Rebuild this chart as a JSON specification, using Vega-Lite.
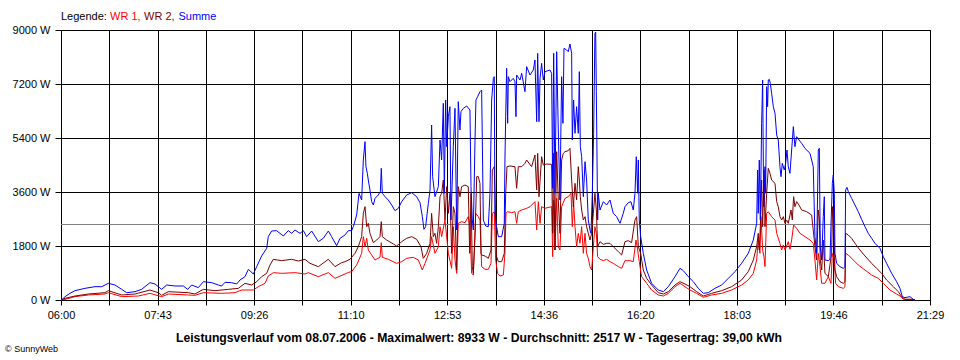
{
"$schema": "https://vega.github.io/schema/vega-lite/v6.json",
"width": 869, "height": 270,
"autosize": {"type": "none"},
"padding": {"left": 61, "top": 30, "right": 30, "bottom": 60},
"background": "white",
"config": {"view": {"stroke": "black", "strokeWidth": 1}, "font": "Liberation Sans"},
"datasets": {
"w1": [{"t":0,"v":0},{"t":4.3,"v":22},{"t":15,"v":111},{"t":29.2,"v":167},{"t":47,"v":200},{"t":50.6,"v":244},{"t":64.9,"v":111},{"t":82.7,"v":133},{"t":95.1,"v":222},{"t":107.6,"v":111},{"t":114.7,"v":200},{"t":136.1,"v":167},{"t":143.2,"v":156},{"t":152.2,"v":244},{"t":171.8,"v":222},{"t":186,"v":244},{"t":193.1,"v":333},{"t":205.6,"v":333},{"t":210.9,"v":444},{"t":218.1,"v":556},{"t":221.6,"v":800},{"t":227,"v":911},{"t":235.9,"v":889},{"t":250.1,"v":911},{"t":260.8,"v":867},{"t":264.4,"v":911},{"t":275.1,"v":778},{"t":285.8,"v":911},{"t":292.9,"v":722},{"t":303.6,"v":867},{"t":307.2,"v":920},{"t":310.7,"v":944},{"t":316.1,"v":1167},{"t":321.4,"v":1556},{"t":323.2,"v":2111},{"t":325,"v":1778},{"t":326.8,"v":2056},{"t":328.5,"v":1667},{"t":332.1,"v":1500},{"t":335.7,"v":1333},{"t":341,"v":1422},{"t":342.4,"v":1911},{"t":343.5,"v":1422},{"t":349.9,"v":1356},{"t":358.8,"v":1222},{"t":364.2,"v":1278},{"t":369.5,"v":1389},{"t":376.6,"v":1422},{"t":382,"v":1333},{"t":386.3,"v":1000},{"t":389.1,"v":1222},{"t":394.5,"v":1667},{"t":396.2,"v":2111},{"t":399.8,"v":1556},{"t":403.4,"v":1778},{"t":405.2,"v":2444},{"t":406.9,"v":2111},{"t":410.5,"v":2667},{"t":414.1,"v":1556},{"t":417.6,"v":1056},{"t":419.4,"v":2444},{"t":421.2,"v":1333},{"t":423,"v":889},{"t":424.7,"v":2556},{"t":428.3,"v":2611},{"t":431.9,"v":2578},{"t":435.4,"v":2778},{"t":437.2,"v":2444},{"t":439,"v":889},{"t":440.8,"v":833},{"t":443.3,"v":2889},{"t":446.1,"v":2778},{"t":447.9,"v":2667},{"t":449.7,"v":1111},{"t":453.3,"v":1022},{"t":456.8,"v":1022},{"t":459.7,"v":1222},{"t":461.1,"v":2889},{"t":463.2,"v":2944},{"t":464.7,"v":1333},{"t":466.8,"v":889},{"t":469.3,"v":800},{"t":472.9,"v":833},{"t":474.6,"v":1556},{"t":475.7,"v":2889},{"t":477.5,"v":2944},{"t":481.8,"v":2911},{"t":485.3,"v":2944},{"t":487.1,"v":2556},{"t":488.9,"v":2944},{"t":492.5,"v":3000},{"t":497.8,"v":3056},{"t":501.4,"v":3111},{"t":506.7,"v":3278},{"t":508.5,"v":2333},{"t":510.3,"v":3278},{"t":512.1,"v":2556},{"t":513.8,"v":3111},{"t":517.4,"v":3056},{"t":524.5,"v":3111},{"t":525.6,"v":1444},{"t":526.7,"v":3333},{"t":528.1,"v":1667},{"t":529.9,"v":3389},{"t":531.6,"v":1778},{"t":533.4,"v":1667},{"t":535.2,"v":3111},{"t":538.8,"v":3389},{"t":542.3,"v":3444},{"t":545.2,"v":3556},{"t":546.6,"v":2444},{"t":548,"v":3278},{"t":549.5,"v":2444},{"t":551.2,"v":1778},{"t":553,"v":2222},{"t":554.8,"v":1889},{"t":556.6,"v":2444},{"t":558.4,"v":1556},{"t":560.2,"v":2222},{"t":561.9,"v":1556},{"t":563.7,"v":1389},{"t":565.5,"v":1111},{"t":567.3,"v":1000},{"t":569.1,"v":1778},{"t":570.8,"v":2444},{"t":572.3,"v":2222},{"t":573.7,"v":1444},{"t":576.2,"v":1356},{"t":579.8,"v":1311},{"t":583.3,"v":1356},{"t":586.9,"v":1278},{"t":590.4,"v":1222},{"t":595.8,"v":1111},{"t":599.4,"v":1056},{"t":602.9,"v":1311},{"t":608.3,"v":1311},{"t":611.8,"v":1278},{"t":614.7,"v":2000},{"t":616.5,"v":1667},{"t":618.2,"v":1278},{"t":620.7,"v":778},{"t":626.1,"v":556},{"t":631.4,"v":333},{"t":638.5,"v":167},{"t":643.9,"v":133},{"t":649.2,"v":222},{"t":656.4,"v":444},{"t":661.7,"v":556},{"t":667.1,"v":444},{"t":672.4,"v":333},{"t":679.5,"v":222},{"t":686.7,"v":89},{"t":695.6,"v":167},{"t":706.3,"v":222},{"t":716.9,"v":333},{"t":727.6,"v":500},{"t":734.7,"v":667},{"t":740.1,"v":889},{"t":743.7,"v":1333},{"t":745.4,"v":2000},{"t":747.2,"v":1556},{"t":748.3,"v":2778},{"t":750.1,"v":1667},{"t":751.5,"v":1444},{"t":752.6,"v":1111},{"t":754.4,"v":2889},{"t":756.1,"v":2944},{"t":759.7,"v":2778},{"t":763.3,"v":2667},{"t":765.1,"v":2222},{"t":768.6,"v":1889},{"t":770.4,"v":1667},{"t":772.2,"v":1833},{"t":774,"v":1667},{"t":777.5,"v":1944},{"t":779.3,"v":1689},{"t":781.1,"v":2000},{"t":783.2,"v":2500},{"t":786.4,"v":2389},{"t":790,"v":2222},{"t":795.3,"v":2111},{"t":800.7,"v":2000},{"t":804.2,"v":1889},{"t":806,"v":1333},{"t":807.8,"v":667},{"t":809.6,"v":1556},{"t":811.4,"v":1111},{"t":813.2,"v":556},{"t":816.7,"v":556},{"t":820.3,"v":778},{"t":823.1,"v":556},{"t":824.6,"v":1556},{"t":826.7,"v":1333},{"t":828.1,"v":556},{"t":831,"v":444},{"t":836.3,"v":389},{"t":838.1,"v":444},{"t":838.8,"v":1556},{"t":841.7,"v":1500},{"t":847,"v":1333},{"t":852.3,"v":1167},{"t":859.5,"v":1000},{"t":866.6,"v":833},{"t":873.7,"v":722},{"t":879.1,"v":556},{"t":886.2,"v":333},{"t":893.3,"v":200},{"t":898,"v":111},{"t":900.4,"v":22},{"t":909.4,"v":22},{"t":912.9,"v":0}],
"w2": [{"t":0,"v":0},{"t":4.3,"v":56},{"t":15,"v":133},{"t":29.2,"v":200},{"t":47,"v":244},{"t":50.6,"v":311},{"t":64.9,"v":167},{"t":79.1,"v":200},{"t":95.1,"v":333},{"t":104,"v":244},{"t":107.6,"v":156},{"t":114.7,"v":278},{"t":136.1,"v":244},{"t":143.2,"v":200},{"t":152.2,"v":355},{"t":164.6,"v":311},{"t":178.9,"v":355},{"t":189.6,"v":389},{"t":196.7,"v":556},{"t":203.8,"v":500},{"t":209.2,"v":611},{"t":214.5,"v":778},{"t":219.9,"v":889},{"t":223.4,"v":1167},{"t":227,"v":1356},{"t":235.9,"v":1311},{"t":246.6,"v":1356},{"t":253.7,"v":1300},{"t":260.8,"v":1356},{"t":266.2,"v":1222},{"t":275.1,"v":1111},{"t":285.8,"v":1356},{"t":292.9,"v":1111},{"t":300,"v":1244},{"t":303.6,"v":1278},{"t":308.9,"v":1356},{"t":314.3,"v":1556},{"t":317.8,"v":1778},{"t":321.4,"v":2111},{"t":323.2,"v":2889},{"t":325,"v":3111},{"t":326.8,"v":2444},{"t":328.5,"v":2556},{"t":330.3,"v":2222},{"t":333.9,"v":1911},{"t":337.5,"v":2000},{"t":341,"v":2111},{"t":342.4,"v":2611},{"t":343.5,"v":2111},{"t":348.1,"v":2000},{"t":355.3,"v":1867},{"t":358.8,"v":1800},{"t":364.2,"v":1944},{"t":369.5,"v":2056},{"t":374.9,"v":2111},{"t":380.2,"v":2022},{"t":384.8,"v":1778},{"t":387.3,"v":1389},{"t":390.9,"v":1556},{"t":394.5,"v":1889},{"t":396.2,"v":2889},{"t":398,"v":2111},{"t":399.8,"v":2222},{"t":401.6,"v":1889},{"t":403.4,"v":2444},{"t":405.2,"v":3444},{"t":406.9,"v":3556},{"t":408.7,"v":4000},{"t":410.5,"v":2667},{"t":412.3,"v":3778},{"t":414.1,"v":2889},{"t":415.8,"v":3556},{"t":417.6,"v":1556},{"t":419.4,"v":3111},{"t":421.2,"v":2889},{"t":423,"v":1000},{"t":424.7,"v":3778},{"t":426.5,"v":3444},{"t":428.3,"v":3778},{"t":431.9,"v":3833},{"t":435.4,"v":3778},{"t":436.9,"v":1556},{"t":438.3,"v":3556},{"t":439.7,"v":1111},{"t":440.8,"v":889},{"t":442.6,"v":2111},{"t":444.4,"v":4111},{"t":446.1,"v":4111},{"t":447.9,"v":3889},{"t":449,"v":1556},{"t":449.7,"v":1500},{"t":453.3,"v":1467},{"t":456.8,"v":1389},{"t":459.7,"v":1667},{"t":461.1,"v":4333},{"t":463.2,"v":4444},{"t":464.7,"v":2667},{"t":465.7,"v":1444},{"t":467.5,"v":1278},{"t":471.1,"v":1278},{"t":473.9,"v":1556},{"t":475.4,"v":3556},{"t":476.8,"v":4444},{"t":480,"v":4467},{"t":485.3,"v":4444},{"t":487.1,"v":3722},{"t":488.9,"v":4444},{"t":492.5,"v":4444},{"t":496,"v":4555},{"t":497.8,"v":4667},{"t":503.1,"v":4444},{"t":506.7,"v":4833},{"t":508.5,"v":3667},{"t":509.6,"v":4889},{"t":511,"v":3444},{"t":513.8,"v":4778},{"t":515.6,"v":4500},{"t":519.2,"v":4533},{"t":524.5,"v":4522},{"t":525.6,"v":2222},{"t":526.7,"v":4889},{"t":528.1,"v":1667},{"t":529.9,"v":4944},{"t":531.6,"v":3333},{"t":533.4,"v":2222},{"t":535.2,"v":4667},{"t":537,"v":4889},{"t":538.8,"v":4944},{"t":542.3,"v":4978},{"t":544.1,"v":5056},{"t":545.9,"v":4000},{"t":547.7,"v":3111},{"t":549.5,"v":3889},{"t":551.2,"v":3333},{"t":553,"v":4444},{"t":554.1,"v":4000},{"t":555.2,"v":3444},{"t":556.6,"v":3000},{"t":558.4,"v":2667},{"t":560.2,"v":2778},{"t":561.9,"v":2444},{"t":563.7,"v":2222},{"t":565.5,"v":2000},{"t":567.3,"v":2222},{"t":569.1,"v":2889},{"t":570.8,"v":3556},{"t":572.3,"v":3000},{"t":573.7,"v":1778},{"t":576.2,"v":1944},{"t":579.8,"v":1856},{"t":583.3,"v":1889},{"t":586.9,"v":1889},{"t":590.4,"v":1778},{"t":595.8,"v":1611},{"t":599.4,"v":1500},{"t":602.9,"v":1944},{"t":606.5,"v":1978},{"t":610,"v":1911},{"t":613.6,"v":2667},{"t":615.4,"v":2778},{"t":617.2,"v":1778},{"t":619.7,"v":1556},{"t":622.5,"v":1000},{"t":626.1,"v":722},{"t":631.4,"v":500},{"t":638.5,"v":244},{"t":643.9,"v":200},{"t":649.2,"v":278},{"t":656.4,"v":500},{"t":661.7,"v":611},{"t":667.1,"v":533},{"t":672.4,"v":444},{"t":679.5,"v":278},{"t":686.7,"v":133},{"t":695.6,"v":222},{"t":706.3,"v":311},{"t":716.9,"v":444},{"t":727.6,"v":667},{"t":734.7,"v":944},{"t":740.1,"v":1333},{"t":743.7,"v":1778},{"t":745.4,"v":2222},{"t":746.5,"v":1667},{"t":747.6,"v":2444},{"t":749,"v":4000},{"t":750.1,"v":2444},{"t":751.5,"v":4333},{"t":752.6,"v":2444},{"t":754.4,"v":3556},{"t":756.1,"v":4389},{"t":757.9,"v":4222},{"t":759.7,"v":4000},{"t":763.3,"v":3889},{"t":765.1,"v":3278},{"t":766.8,"v":3111},{"t":768.6,"v":2778},{"t":770.4,"v":2667},{"t":772.2,"v":2778},{"t":774,"v":2556},{"t":775.7,"v":2667},{"t":777.5,"v":2556},{"t":780.4,"v":3000},{"t":781.8,"v":2667},{"t":783.2,"v":3444},{"t":784.6,"v":3111},{"t":786.4,"v":3278},{"t":788.9,"v":3167},{"t":791.8,"v":3000},{"t":797.1,"v":2944},{"t":802.5,"v":2833},{"t":806,"v":1778},{"t":807.8,"v":1333},{"t":809.6,"v":3000},{"t":810.7,"v":2667},{"t":811.7,"v":1333},{"t":813.2,"v":1000},{"t":814.9,"v":2000},{"t":816.7,"v":889},{"t":820.3,"v":778},{"t":823.8,"v":1556},{"t":824.9,"v":3111},{"t":826,"v":2667},{"t":827.4,"v":1000},{"t":829.2,"v":778},{"t":832.8,"v":611},{"t":836.3,"v":556},{"t":838.1,"v":611},{"t":838.8,"v":2222},{"t":841.7,"v":2167},{"t":845.2,"v":2056},{"t":848.8,"v":1889},{"t":854.1,"v":1667},{"t":859.5,"v":1467},{"t":866.6,"v":1222},{"t":871.9,"v":1056},{"t":877.3,"v":889},{"t":882.6,"v":667},{"t":889.8,"v":444},{"t":895.1,"v":278},{"t":898.7,"v":111},{"t":902.2,"v":22},{"t":909.4,"v":22},{"t":912.9,"v":0}],
"sum": [{"t":0,"v":0},{"t":0.7,"v":0},{"t":4.3,"v":111},{"t":9.6,"v":222},{"t":15,"v":311},{"t":25.7,"v":389},{"t":36.3,"v":444},{"t":43.5,"v":444},{"t":50.6,"v":556},{"t":57.7,"v":500},{"t":64.9,"v":355},{"t":70.2,"v":244},{"t":79.1,"v":278},{"t":86.2,"v":355},{"t":95.1,"v":578},{"t":100.5,"v":533},{"t":107.6,"v":355},{"t":113,"v":500},{"t":121.9,"v":467},{"t":130.8,"v":467},{"t":135.4,"v":355},{"t":139.7,"v":500},{"t":146.8,"v":411},{"t":152.2,"v":611},{"t":161.1,"v":578},{"t":168.2,"v":500},{"t":171.8,"v":467},{"t":175.3,"v":589},{"t":182.4,"v":578},{"t":187.8,"v":533},{"t":191.4,"v":667},{"t":196.7,"v":778},{"t":200.3,"v":1022},{"t":205.6,"v":867},{"t":209.2,"v":1111},{"t":214.5,"v":1467},{"t":219.9,"v":1722},{"t":221.6,"v":2111},{"t":225.2,"v":2300},{"t":230.5,"v":2311},{"t":237.7,"v":2133},{"t":243,"v":2311},{"t":246.6,"v":2222},{"t":250.1,"v":2333},{"t":255.5,"v":2222},{"t":259.1,"v":2311},{"t":262.6,"v":2111},{"t":268,"v":2300},{"t":275.1,"v":1944},{"t":280.4,"v":2056},{"t":285.8,"v":2300},{"t":289.3,"v":2111},{"t":294.7,"v":1811},{"t":298.3,"v":2056},{"t":303.6,"v":2167},{"t":307.2,"v":2311},{"t":310.7,"v":2311},{"t":312.5,"v":2444},{"t":316.1,"v":2833},{"t":318.6,"v":3556},{"t":321.4,"v":3333},{"t":323.2,"v":4667},{"t":325,"v":5278},{"t":326,"v":4444},{"t":327.5,"v":4222},{"t":328.5,"v":4000},{"t":330.3,"v":3667},{"t":332.1,"v":3278},{"t":333.9,"v":3167},{"t":335.7,"v":3389},{"t":339.2,"v":3500},{"t":341.4,"v":3611},{"t":342.4,"v":4389},{"t":343.5,"v":3556},{"t":346.4,"v":3444},{"t":349.9,"v":3333},{"t":353.5,"v":3167},{"t":357,"v":2978},{"t":360.6,"v":3056},{"t":364.2,"v":3278},{"t":369.5,"v":3500},{"t":374.9,"v":3578},{"t":380.2,"v":3444},{"t":383.8,"v":3244},{"t":386.3,"v":2778},{"t":388,"v":2356},{"t":389.8,"v":2444},{"t":392.7,"v":3222},{"t":394.5,"v":3667},{"t":396.2,"v":5833},{"t":397.3,"v":4111},{"t":399.8,"v":3444},{"t":403.4,"v":3778},{"t":405.2,"v":5333},{"t":406.9,"v":4667},{"t":408.7,"v":6556},{"t":409.8,"v":3556},{"t":411.2,"v":6667},{"t":412.3,"v":5111},{"t":414.1,"v":6111},{"t":415.8,"v":6444},{"t":416.9,"v":2667},{"t":419.4,"v":5111},{"t":421.2,"v":6389},{"t":423,"v":2333},{"t":424.7,"v":6611},{"t":426.5,"v":5667},{"t":427.6,"v":6278},{"t":430.1,"v":6389},{"t":433.7,"v":6467},{"t":437.2,"v":6333},{"t":438.3,"v":3778},{"t":439.7,"v":2667},{"t":440.8,"v":2333},{"t":442.6,"v":5333},{"t":443.6,"v":6667},{"t":445.4,"v":6778},{"t":447.9,"v":6944},{"t":449.7,"v":7000},{"t":451.5,"v":2667},{"t":454,"v":2467},{"t":456.8,"v":2444},{"t":458.6,"v":3556},{"t":460.4,"v":6667},{"t":462.2,"v":7389},{"t":463.2,"v":7444},{"t":463.9,"v":2889},{"t":465.7,"v":2444},{"t":467.5,"v":2111},{"t":471.1,"v":2111},{"t":473.9,"v":2556},{"t":474.6,"v":4667},{"t":475.4,"v":6111},{"t":476.4,"v":7722},{"t":477.5,"v":5889},{"t":478.2,"v":7444},{"t":480,"v":7278},{"t":483.5,"v":7389},{"t":485.3,"v":7278},{"t":486.4,"v":6111},{"t":487.1,"v":7500},{"t":490.7,"v":7333},{"t":492.5,"v":7556},{"t":496,"v":6944},{"t":497.8,"v":7778},{"t":501.4,"v":7500},{"t":504.9,"v":7667},{"t":506.7,"v":8000},{"t":508.5,"v":5944},{"t":509.6,"v":8222},{"t":511,"v":5944},{"t":512.1,"v":7389},{"t":513.8,"v":7889},{"t":515.6,"v":7333},{"t":517.4,"v":7611},{"t":522.7,"v":7667},{"t":524.5,"v":7556},{"t":525.6,"v":3722},{"t":526.7,"v":8222},{"t":528.1,"v":3556},{"t":529.9,"v":8278},{"t":531.6,"v":5667},{"t":533.4,"v":3333},{"t":535.2,"v":7444},{"t":536.6,"v":5889},{"t":537.7,"v":8389},{"t":540.6,"v":8333},{"t":542.3,"v":8278},{"t":544.1,"v":8533},{"t":545.9,"v":8222},{"t":546.6,"v":5333},{"t":548,"v":6667},{"t":549.5,"v":5556},{"t":551.2,"v":6444},{"t":553,"v":5556},{"t":554.1,"v":7611},{"t":555.2,"v":5111},{"t":556.6,"v":4778},{"t":558.4,"v":3444},{"t":560.2,"v":4611},{"t":561.9,"v":4000},{"t":563.7,"v":2667},{"t":565.5,"v":2333},{"t":566.6,"v":2222},{"t":568,"v":3556},{"t":569.4,"v":5556},{"t":570.8,"v":8889},{"t":571.6,"v":8933},{"t":572.3,"v":6944},{"t":573.7,"v":2667},{"t":574.4,"v":3556},{"t":576.2,"v":3000},{"t":579.8,"v":3278},{"t":583.3,"v":3167},{"t":586.9,"v":3333},{"t":590.4,"v":2889},{"t":594,"v":2778},{"t":597.6,"v":2556},{"t":601.1,"v":2889},{"t":602.9,"v":3111},{"t":606.5,"v":3244},{"t":609.3,"v":3278},{"t":611.8,"v":3000},{"t":613.6,"v":3556},{"t":615,"v":4778},{"t":616.5,"v":3556},{"t":617.2,"v":4667},{"t":618.2,"v":2667},{"t":619.7,"v":2111},{"t":622.5,"v":1556},{"t":626.1,"v":1000},{"t":631.4,"v":556},{"t":638.5,"v":333},{"t":643.9,"v":278},{"t":649.2,"v":444},{"t":656.4,"v":778},{"t":661.7,"v":1056},{"t":665.3,"v":978},{"t":670.6,"v":778},{"t":676,"v":611},{"t":681.3,"v":389},{"t":686.7,"v":222},{"t":692,"v":244},{"t":699.1,"v":389},{"t":706.3,"v":500},{"t":713.4,"v":722},{"t":720.5,"v":944},{"t":727.6,"v":1222},{"t":734.7,"v":1556},{"t":740.1,"v":2000},{"t":743.7,"v":2556},{"t":744.7,"v":4333},{"t":745.4,"v":2889},{"t":746.5,"v":4667},{"t":747.6,"v":2667},{"t":749,"v":5889},{"t":750.1,"v":7333},{"t":751.2,"v":3111},{"t":752.6,"v":4444},{"t":753.3,"v":3556},{"t":754.4,"v":7111},{"t":755.4,"v":6444},{"t":756.1,"v":7333},{"t":757.2,"v":7356},{"t":758.3,"v":7222},{"t":759.7,"v":6889},{"t":761.5,"v":6444},{"t":763.3,"v":6222},{"t":765.1,"v":5500},{"t":766.8,"v":5333},{"t":768.6,"v":4444},{"t":769.7,"v":4111},{"t":771.1,"v":4556},{"t":773.2,"v":4333},{"t":774.7,"v":4556},{"t":776.1,"v":5000},{"t":777.5,"v":4444},{"t":779.3,"v":4222},{"t":781.1,"v":5000},{"t":782.9,"v":5778},{"t":784.6,"v":5111},{"t":786.4,"v":5444},{"t":788.9,"v":5333},{"t":791.8,"v":5222},{"t":795.3,"v":5056},{"t":800.7,"v":4889},{"t":804.2,"v":4444},{"t":806,"v":2111},{"t":807.8,"v":1556},{"t":809.6,"v":5000},{"t":810.7,"v":5056},{"t":811.7,"v":1778},{"t":813.2,"v":1333},{"t":814.9,"v":2778},{"t":816,"v":3444},{"t":816.7,"v":1333},{"t":820.3,"v":1311},{"t":822.1,"v":1356},{"t":823.1,"v":2444},{"t":824.6,"v":3889},{"t":825.6,"v":4167},{"t":826.7,"v":3556},{"t":827.4,"v":1556},{"t":829.2,"v":1222},{"t":832.8,"v":1111},{"t":836.3,"v":1056},{"t":838.1,"v":1111},{"t":838.8,"v":3667},{"t":840.2,"v":3756},{"t":841.7,"v":3611},{"t":845.2,"v":3389},{"t":848.8,"v":3167},{"t":852.3,"v":2944},{"t":855.9,"v":2689},{"t":859.5,"v":2444},{"t":863,"v":2222},{"t":866.6,"v":2056},{"t":870.2,"v":1889},{"t":875.5,"v":1722},{"t":879.1,"v":1444},{"t":882.6,"v":1222},{"t":888,"v":889},{"t":893.3,"v":611},{"t":896.9,"v":389},{"t":899.4,"v":111},{"t":902.2,"v":78},{"t":907.6,"v":111},{"t":911.1,"v":22},{"t":912.9,"v":0}]
},
"layer": [
{
"data": {"values": [{"avg": 2517}]},
"mark": {"type": "rule", "color": "#808080", "strokeWidth": 1},
"encoding": {
"y": {"field": "avg", "type": "quantitative", "scale": {"domain": [0, 9000], "nice": false, "zero": true},
"axis": {"values": [0, 1800, 3600, 5400, 7200, 9000], "labelExpr": "datum.value + ' W'", "title": null, "grid": true, "gridColor": "black", "gridOpacity": 1, "gridWidth": 1, "domainColor": "black", "tickColor": "black", "tickSize": 6, "labelPadding": 5, "labelFont": "Liberation Sans", "labelFontSize": 11, "labelColor": "black"}}
}
},
{
"encoding": {
"x": {"field": "t", "type": "quantitative", "scale": {"domain": [0, 929], "nice": false, "zero": false},
"axis": {"values": [0, 51.611, 103.222, 154.833, 206.444, 258.056, 309.667, 361.278, 412.889, 464.5, 516.111, 567.722, 619.333, 670.944, 722.556, 774.167, 825.778, 877.389, 929], "labelExpr": "['06:00','','07:43','','09:26','','11:10','','12:53','','14:36','','16:20','','18:03','','19:46','','21:29'][round(datum.value / 51.611)]", "labelFlush": false, "labelOverlap": false, "title": null, "grid": true, "gridColor": "black", "gridOpacity": 1, "gridWidth": 1, "domainColor": "black", "tickColor": "black", "tickSize": 5, "labelPadding": 4, "labelFont": "Liberation Sans", "labelFontSize": 11, "labelColor": "black"}},
"y": {"field": "v", "type": "quantitative", "scale": {"domain": [0, 9000], "nice": false, "zero": true},
"axis": {"values": [0, 1800, 3600, 5400, 7200, 9000], "labelExpr": "datum.value + ' W'", "title": null, "grid": true, "gridColor": "black", "gridOpacity": 1, "gridWidth": 1, "domainColor": "black", "tickColor": "black", "tickSize": 6, "labelPadding": 5, "labelFont": "Liberation Sans", "labelFontSize": 11, "labelColor": "black"}}
},
"layer": [
{"data": {"name": "w1"}, "mark": {"type": "line", "color": "#ff0000", "strokeWidth": 1}},
{"data": {"name": "w2"}, "mark": {"type": "line", "color": "#800000", "strokeWidth": 1}},
{"data": {"name": "sum"}, "mark": {"type": "line", "color": "#0000ff", "strokeWidth": 1}}
]
},
{
"data": {"values": [{}]},
"layer": [
{"mark": {"type": "text", "text": "Legende:", "align": "left", "baseline": "alphabetic", "fontSize": 11, "font": "Liberation Sans", "color": "black"}, "encoding": {"x": {"value": 0}, "y": {"value": -10}}},
{"mark": {"type": "text", "text": "WR 1,", "align": "left", "baseline": "alphabetic", "fontSize": 11, "font": "Liberation Sans", "color": "#ff0000"}, "encoding": {"x": {"value": 49}, "y": {"value": -10}}},
{"mark": {"type": "text", "text": "WR 2,", "align": "left", "baseline": "alphabetic", "fontSize": 11, "font": "Liberation Sans", "color": "#800000"}, "encoding": {"x": {"value": 83}, "y": {"value": -10}}},
{"mark": {"type": "text", "text": "Summe", "align": "left", "baseline": "alphabetic", "fontSize": 11, "font": "Liberation Sans", "color": "#0000ff"}, "encoding": {"x": {"value": 117.5}, "y": {"value": -10}}},
{"mark": {"type": "text", "text": "Leistungsverlauf vom 08.07.2006 - Maximalwert: 8933 W - Durchschnitt: 2517 W - Tagesertrag: 39,00 kWh", "align": "center", "baseline": "alphabetic", "fontSize": 12.2, "fontWeight": "bold", "font": "Liberation Sans", "color": "black"}, "encoding": {"x": {"value": 418}, "y": {"value": 312}}},
{"mark": {"type": "text", "text": "© SunnyWeb", "align": "left", "baseline": "alphabetic", "fontSize": 9, "font": "Liberation Sans", "color": "black"}, "encoding": {"x": {"value": -56}, "y": {"value": 322}}}
]
}
]
}
